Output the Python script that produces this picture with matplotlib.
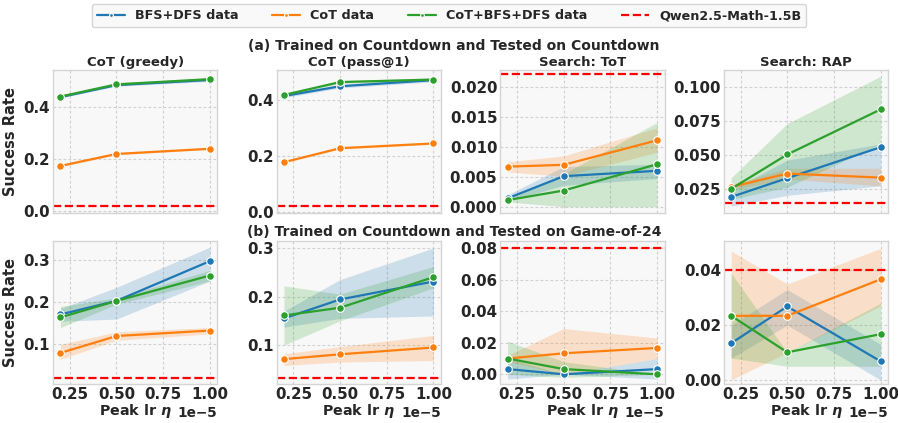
import numpy as np
import seaborn as sns
from matplotlib import pyplot as plt

# learning rates (in units of 1e-5)
lrs = [0.2e-5, 0.5e-5, 1.0e-5]
series_names = ["BFS+DFS data", "CoT data", "CoT+BFS+DFS data"]
colors = ["#1f77b4", "#ff7f0e", "#2ca02c"]
baseline_name = "Qwen2.5-Math-1.5B"

panel_titles = ["CoT (greedy)", "CoT (pass@1)", "Search: ToT", "Search: RAP"]
row_titles = ["(a) Trained on Countdown and Tested on Countdown",
              "(b) Trained on Countdown and Tested on Game-of-24"]

# mean / lower / upper per series, row a
a_greedy_mean = [[0.440, 0.486, 0.506], [0.175, 0.221, 0.241], [0.442, 0.489, 0.509]]
a_greedy_lo = [[0.436, 0.482, 0.500], [0.171, 0.218, 0.238], [0.438, 0.485, 0.503]]
a_greedy_hi = [[0.446, 0.492, 0.513], [0.179, 0.225, 0.245], [0.447, 0.493, 0.515]]
a_pass_mean = [[0.415, 0.450, 0.472], [0.178, 0.228, 0.245], [0.419, 0.465, 0.474]]
a_pass_lo = [[0.409, 0.444, 0.466], [0.175, 0.225, 0.242], [0.414, 0.460, 0.469]]
a_pass_hi = [[0.421, 0.456, 0.480], [0.181, 0.231, 0.248], [0.424, 0.470, 0.480]]
a_tot_mean = [[0.0014, 0.0051, 0.0060], [0.0067, 0.0070, 0.0111], [0.0011, 0.0027, 0.0071]]
a_tot_lo = [[0.0009, 0.0036, 0.0047], [0.0058, 0.0051, 0.0091], [0.0008, 0.0000, 0.0000]]
a_tot_hi = [[0.0020, 0.0067, 0.0071], [0.0075, 0.0085, 0.0132], [0.0013, 0.0055, 0.0141]]
a_rap_mean = [[0.0188, 0.0327, 0.0556], [0.0262, 0.0361, 0.0331], [0.0248, 0.0502, 0.0835]]
a_rap_lo = [[0.0120, 0.0200, 0.0270], [0.0240, 0.0320, 0.0270], [0.0170, 0.0260, 0.0580]]
a_rap_hi = [[0.0240, 0.0460, 0.0580], [0.0280, 0.0400, 0.0400], [0.0330, 0.0730, 0.1080]]

# row b
b_greedy_mean = [[0.171, 0.203, 0.297], [0.080, 0.120, 0.133], [0.164, 0.203, 0.263]]
b_greedy_lo = [[0.155, 0.160, 0.250], [0.065, 0.110, 0.125], [0.140, 0.195, 0.250]]
b_greedy_hi = [[0.185, 0.235, 0.330], [0.100, 0.130, 0.140], [0.190, 0.210, 0.275]]
b_pass_mean = [[0.155, 0.194, 0.231], [0.071, 0.081, 0.095], [0.161, 0.177, 0.240]]
b_pass_lo = [[0.137, 0.155, 0.160], [0.058, 0.065, 0.068], [0.100, 0.150, 0.218]]
b_pass_hi = [[0.170, 0.235, 0.300], [0.082, 0.097, 0.120], [0.222, 0.205, 0.262]]
b_tot_mean = [[0.0033, 0.0000, 0.0033], [0.0100, 0.0133, 0.0167], [0.0100, 0.0033, 0.0000]]
b_tot_lo = [[-0.0030, 0.0000, -0.0030], [0.0080, 0.0000, 0.0100], [0.0000, -0.0020, 0.0000]]
b_tot_hi = [[0.0100, 0.0000, 0.0100], [0.0120, 0.0290, 0.0230], [0.0210, 0.0080, 0.0000]]
b_rap_mean = [[0.0134, 0.0268, 0.0068], [0.0234, 0.0234, 0.0367], [0.0234, 0.0101, 0.0167]]
b_rap_lo = [[0.0080, 0.0200, 0.0000], [0.0000, 0.0100, 0.0270], [0.0080, 0.0050, 0.0050]]
b_rap_hi = [[0.0200, 0.0330, 0.0130], [0.0470, 0.0350, 0.0480], [0.0390, 0.0100, 0.0280]]

baselines = [[0.022, 0.0215, 0.0222, 0.0141], [0.0198, 0.032, 0.08, 0.04]]

means = [[a_greedy_mean, a_pass_mean, a_tot_mean, a_rap_mean],
         [b_greedy_mean, b_pass_mean, b_tot_mean, b_rap_mean]]
lows = [[a_greedy_lo, a_pass_lo, a_tot_lo, a_rap_lo],
        [b_greedy_lo, b_pass_lo, b_tot_lo, b_rap_lo]]
highs = [[a_greedy_hi, a_pass_hi, a_tot_hi, a_rap_hi],
         [b_greedy_hi, b_pass_hi, b_tot_hi, b_rap_hi]]

ylims = [[(-0.005, 0.545), (-0.003, 0.509), (-0.001, 0.0229), (0.0072, 0.1128)],
         [(0.0064, 0.344), (0.0196, 0.314), (-0.0062, 0.0843), (-0.0015, 0.0506)]]
yticks = [[[0.0, 0.2, 0.4], [0.0, 0.2, 0.4], [0.0, 0.005, 0.01, 0.015, 0.02],
           [0.025, 0.05, 0.075, 0.1]],
          [[0.1, 0.2, 0.3], [0.1, 0.2, 0.3], [0.0, 0.02, 0.04, 0.06, 0.08], [0.0, 0.02, 0.04]]]
ytick_fmt = [["%.1f", "%.1f", "%.3f", "%.3f"], ["%.1f", "%.1f", "%.2f", "%.2f"]]

sns.set_style("whitegrid", {"axes.facecolor": "#f8f8f8", "grid.linestyle": (0, (2.5, 2)),
                            "grid.color": "#d0d0d0", "axes.edgecolor": "#d5d5d5"})
plt.rcParams['font.family'] = ['DejaVu Sans']
plt.rcParams['font.weight'] = 'bold'
plt.rcParams['axes.labelweight'] = 'bold'
plt.rcParams['axes.titleweight'] = 'bold'
plt.rcParams['grid.linewidth'] = 0.8

fig, axes = plt.subplots(2, 4, figsize=(8.98, 4.23), dpi=100, sharex=True)
fig.subplots_adjust(left=0.059, right=0.989, top=0.835, bottom=0.092, wspace=0.36, hspace=0.2)

for r in range(2):
    for c in range(4):
        ax = axes[r, c]
        for s in range(3):
            ax.fill_between(lrs, lows[r][c][s], highs[r][c][s], color=colors[s], alpha=0.2, linewidth=0)
            ax.plot(lrs, means[r][c][s], color=colors[s], marker='o', markersize=5.5,
                    markeredgecolor='white', markeredgewidth=0.8, linewidth=1.6, label=series_names[s])
        ax.axhline(baselines[r][c], color='red', linestyle='--', linewidth=1.6, label=baseline_name)
        ax.set_ylim(*ylims[r][c])
        ax.set_yticks(yticks[r][c])
        ax.set_yticklabels([ytick_fmt[r][c] % v for v in yticks[r][c]])
        ax.set_xticks([0.25e-5, 0.5e-5, 0.75e-5, 1.0e-5])
        ax.tick_params(axis='both', pad=2, length=0, labelsize=10.8)
        for sp in ax.spines.values():
            sp.set_linewidth(1.0)
        if r == 0:
            ax.set_title(panel_titles[c], fontsize=9.5, fontweight='bold', pad=3)
        else:
            ax.set_xlabel(r"Peak lr $\eta$", fontsize=10.3, labelpad=0)
            ax.xaxis.get_offset_text().set_fontweight('bold')
            ax.xaxis.get_offset_text().set_fontsize(9.8)
        if c == 0:
            ax.set_ylabel("Success Rate", fontsize=10.5, labelpad=4)

fig.text(454 / 898, 1 - 46 / 423, row_titles[0], ha='center', va='center',
         fontsize=10, fontweight='bold')
fig.text(454 / 898, 1 - 232 / 423, row_titles[1], ha='center', va='center',
         fontsize=10, fontweight='bold')

handles, labels = axes[0, 0].get_legend_handles_labels()
leg = fig.legend(handles, labels, loc='upper center', ncol=4, bbox_to_anchor=(0.5, 1.005),
                 frameon=True, fontsize=9.2, markerscale=0.5, handlelength=2.2,
                 columnspacing=2.6, borderpad=0.4)
leg.get_frame().set_edgecolor('#cccccc')

plt.savefig("out.png", dpi=100)
